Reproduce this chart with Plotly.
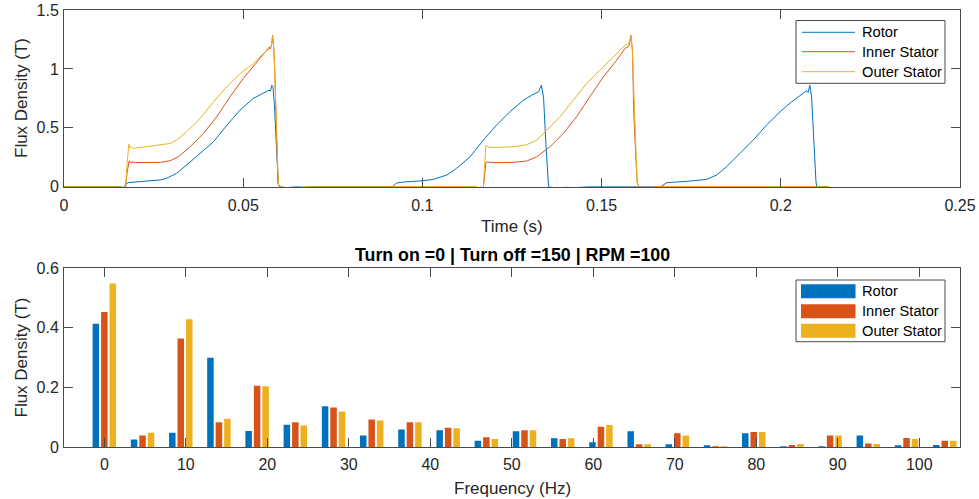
import plotly.graph_objects as go

# ---------------- time-domain flux density (T) ----------------
t_rotor = [0, 0.0160, 0.0166, 0.0172, 0.0180, 0.0200, 0.0240, 0.0270, 0.0286, 0.0300,
           0.0314, 0.0342, 0.0380, 0.0417, 0.0454, 0.0491, 0.0528, 0.0556, 0.0572, 0.0576,
           0.0580, 0.0583, 0.0587, 0.0591, 0.0595, 0.0598, 0.0603, 0.0620, 0.0650, 0.0680,
           0.0700, 0.0917, 0.0925, 0.0932, 0.0960, 0.1000, 0.1030, 0.1068, 0.1095, 0.1133,
           0.1170, 0.1207, 0.1244, 0.1282, 0.1305, 0.1324, 0.1332, 0.1338, 0.1345, 0.1349,
           0.1352, 0.1370, 0.1400, 0.1430, 0.1460, 0.1665, 0.1675, 0.1682, 0.1747, 0.1793,
           0.1821, 0.1849, 0.1886, 0.1923, 0.1960, 0.1998, 0.2030, 0.2054, 0.2072, 0.2076,
           0.2081, 0.2086, 0.2092, 0.2098, 0.2100, 0.2133]
b_rotor = [0, 0, -0.010, 0.020, 0.035, 0.040, 0.048, 0.058, 0.071, 0.090,
           0.113, 0.184, 0.282, 0.381, 0.520, 0.650, 0.749, 0.797, 0.820, 0.810,
           0.862, 0.850, 0.700, 0.450, 0.150, 0.020, 0, -0.008, 0, -0.005,
           0, 0, 0.025, 0.034, 0.043, 0.050, 0.062, 0.099, 0.155, 0.254,
           0.395, 0.523, 0.636, 0.734, 0.777, 0.805, 0.862, 0.760, 0.340, 0.110,
           0, -0.010, -0.005, -0.008, 0, 0, 0.020, 0.034, 0.048, 0.062,
           0.099, 0.170, 0.282, 0.395, 0.523, 0.636, 0.720, 0.777, 0.814, 0.800,
           0.862, 0.760, 0.340, 0.050, 0, 0]

t_inner = [0, 0.0160, 0.0166, 0.0172, 0.0176, 0.0180, 0.0182, 0.0186, 0.0190, 0.0200,
           0.0240, 0.0270, 0.0296, 0.0319, 0.0352, 0.0389, 0.0426, 0.0463, 0.0500, 0.0538,
           0.0561, 0.0573, 0.0576, 0.0580, 0.0582, 0.0585, 0.0588, 0.0592, 0.0596, 0.0597,
           0.0600, 0.0620, 0.0640, 0.0660, 0.0680, 0.1150, 0.1155, 0.1165, 0.1170, 0.1174,
           0.1177, 0.1180, 0.1200, 0.1250, 0.1291, 0.1319, 0.1356, 0.1393, 0.1430, 0.1467,
           0.1505, 0.1542, 0.1565, 0.1575, 0.1578, 0.1582, 0.1586, 0.1590, 0.1595, 0.1599,
           0.1604, 0.1620, 0.1650, 0.2133]
b_inner = [0, 0, -0.010, 0, 0.120, 0.210, 0.220, 0.200, 0.210, 0.205,
           0.203, 0.207, 0.220, 0.254, 0.339, 0.452, 0.593, 0.763, 0.918, 1.059,
           1.144, 1.186, 1.170, 1.220, 1.285, 1.180, 1.000, 0.593, 0.300, 0.040,
           0, -0.010, -0.005, -0.010, 0, 0, -0.010, -0.005, -0.010, 0.100,
           0.206, 0.210, 0.204, 0.206, 0.218, 0.254, 0.339, 0.452, 0.593, 0.763,
           0.932, 1.073, 1.172, 1.190, 1.210, 1.285, 1.160, 0.600, 0.200, 0.040,
           0, -0.008, 0, 0]

t_outer = [0, 0.0160, 0.0166, 0.0172, 0.0176, 0.0179, 0.0181, 0.0184, 0.0188, 0.0193,
           0.0230, 0.0268, 0.0296, 0.0314, 0.0342, 0.0380, 0.0417, 0.0454, 0.0491, 0.0528,
           0.0556, 0.0573, 0.0576, 0.0579, 0.0582, 0.0586, 0.0590, 0.0594, 0.0598, 0.0601,
           0.0620, 0.0640, 0.0660, 0.0680, 0.1150, 0.1158, 0.1165, 0.1170, 0.1174, 0.1177,
           0.1180, 0.1185, 0.1200, 0.1250, 0.1291, 0.1319, 0.1347, 0.1384, 0.1421, 0.1458,
           0.1495, 0.1523, 0.1551, 0.1565, 0.1575, 0.1582, 0.1586, 0.1590, 0.1595, 0.1599,
           0.1604, 0.1620, 0.1650, 0.2133]
b_outer = [0, 0, -0.010, 0, 0.200, 0.353, 0.360, 0.330, 0.340, 0.325,
           0.339, 0.350, 0.367, 0.395, 0.466, 0.579, 0.720, 0.847, 0.960, 1.045,
           1.130, 1.172, 1.180, 1.200, 1.280, 1.150, 0.800, 0.300, 0.020, 0,
           -0.010, -0.008, -0.010, 0, 0, -0.012, 0, -0.010, 0.200, 0.347,
           0.350, 0.335, 0.333, 0.338, 0.356, 0.395, 0.480, 0.593, 0.734, 0.876,
           0.989, 1.073, 1.158, 1.200, 1.210, 1.280, 1.150, 0.800, 0.300, 0.040,
           0, -0.010, 0, 0]

# ---------------- spectrum (T) ----------------
freq_hz = [0, 4.69, 9.38, 14.06, 18.75, 23.44, 28.13, 32.81, 37.50, 42.19, 46.88, 51.56,
           56.25, 60.94, 65.63, 70.31, 75.00, 79.69, 84.38, 89.06, 93.75, 98.44, 103.13]
amp_rotor = [0.414, 0.025, 0.048, 0.300, 0.054, 0.075, 0.137, 0.039, 0.059, 0.056, 0.021, 0.053,
             0.029, 0.016, 0.053, 0.009, 0.003, 0.046, 0.001, 0.001, 0.039, 0.004, 0.007]
amp_inner = [0.453, 0.039, 0.364, 0.083, 0.206, 0.083, 0.133, 0.092, 0.083, 0.065, 0.033, 0.056,
             0.027, 0.068, 0.009, 0.046, 0.001, 0.050, 0.007, 0.039, 0.012, 0.030, 0.021]
amp_outer = [0.549, 0.048, 0.429, 0.095, 0.204, 0.072, 0.119, 0.089, 0.083, 0.063, 0.027, 0.056,
             0.029, 0.074, 0.009, 0.039, 0.001, 0.050, 0.010, 0.039, 0.010, 0.027, 0.021]

series_names = ["Rotor", "Inner Stator", "Outer Stator"]
colors = ["#0072BD", "#D95319", "#EDB120"]

top_xticks = [0, 0.05, 0.1, 0.15, 0.2, 0.25]
top_xlabels = ["0", "0.05", "0.1", "0.15", "0.2", "0.25"]
top_yticks = [0, 0.5, 1, 1.5]
top_ylabels = ["0", "0.5", "1", "1.5"]
bot_xticks = [0, 10, 20, 30, 40, 50, 60, 70, 80, 90, 100]
bot_yticks = [0, 0.2, 0.4, 0.6]
bot_ylabels = ["0", "0.2", "0.4", "0.6"]

# ---------------- geometry helpers (pixel -> paper) ----------------
W, H = 979, 499
ML, MR, MT, MB = 64, 19, 10, 52
PW, PH = W - ML - MR, H - MT - MB


def px(x):
    return (x - ML) / PW


def py(y):
    return (H - MB - y) / PH


FONT = "Liberation Sans, Arial, Helvetica, sans-serif"
TXT = "#262626"
AX = "#4a4a4a"

fig = go.Figure()

for t, b, name, c in zip([t_rotor, t_inner, t_outer], [b_rotor, b_inner, b_outer],
                         series_names, colors):
    fig.add_trace(go.Scatter(x=t, y=b, mode="lines", name=name,
                             line=dict(color=c, width=1), showlegend=False,
                             xaxis="x", yaxis="y"))

bar_width = 0.8
bar_offsets = [-1.44, -0.40, 0.64]
for amp, name, c, off in zip([amp_rotor, amp_inner, amp_outer], series_names, colors, bar_offsets):
    fig.add_trace(go.Bar(x=freq_hz, y=amp, name=name, marker=dict(color=c, line=dict(width=0)),
                         width=bar_width, offset=off, showlegend=False,
                         xaxis="x2", yaxis="y2"))

axis_common = dict(showline=True, linecolor=AX, linewidth=1, mirror="ticks",
                   ticks="inside", ticklen=9, tickcolor=AX, showgrid=False, zeroline=False,
                   automargin=False,
                   tickfont=dict(family=FONT, size=16, color=TXT))

fig.update_layout(
    template="none",
    width=W, height=H,
    margin=dict(l=ML, r=MR, t=MT, b=MB),
    paper_bgcolor="white", plot_bgcolor="white",
    barmode="overlay",
    xaxis=dict(domain=[0, 1], anchor="y", range=[0, 0.25], tickvals=top_xticks,
               ticktext=top_xlabels, ticklabelstandoff=4, **axis_common),
    yaxis=dict(domain=[py(186.7), 1], anchor="x", range=[0, 1.5], tickvals=top_yticks,
               ticktext=top_ylabels, ticklabelstandoff=1, **axis_common),
    xaxis2=dict(domain=[0, 1], anchor="y2", range=[-4.95, 105.0], tickvals=bot_xticks,
                ticklabelstandoff=3, **axis_common),
    yaxis2=dict(domain=[0, py(268.3)], anchor="x2", range=[0, 0.6], tickvals=bot_yticks,
                ticktext=bot_ylabels, ticklabelstandoff=1, **axis_common),
)

annotations = [
    dict(text="Time (s)", x=px(512), y=py(227), font=dict(size=17, color=TXT)),
    dict(text="Frequency (Hz)", x=px(512), y=py(488), font=dict(size=17, color=TXT)),
    dict(text="Flux Density (T)", x=px(21), y=py(98), textangle=-90, font=dict(size=17, color=TXT)),
    dict(text="Flux Density (T)", x=px(21), y=py(357.5), textangle=-90, font=dict(size=17, color=TXT)),
    dict(text="<b>Turn on =0 | Turn off =150 | RPM =100</b>", x=px(512), y=py(255),
         font=dict(size=17.8, color="#000000")),
]

shapes = []
# legend for the time-domain traces
shapes.append(dict(type="rect", xref="paper", yref="paper", x0=px(796), x1=px(945),
                   y0=py(83.3), y1=py(20.5), line=dict(color=AX, width=1), fillcolor="white",
                   layer="above"))
for name, c, yy in zip(series_names, colors, [32.3, 51.7, 71.7]):
    shapes.append(dict(type="line", xref="paper", yref="paper", x0=px(802), x1=px(855),
                       y0=py(yy), y1=py(yy), line=dict(color=c, width=1), layer="above"))
    annotations.append(dict(text=name, x=px(860), y=py(yy), xanchor="left",
                            font=dict(size=14.7, color="#000000")))
# legend for the spectrum bars
shapes.append(dict(type="rect", xref="paper", yref="paper", x0=px(796), x1=px(945),
                   y0=py(341.7), y1=py(280), line=dict(color=AX, width=1), fillcolor="white",
                   layer="above"))
for name, c, yy in zip(series_names, colors, [291.3, 311.3, 330.7]):
    shapes.append(dict(type="rect", xref="paper", yref="paper", x0=px(801), x1=px(855.5),
                       y0=py(yy + 7), y1=py(yy - 7), line=dict(width=0), fillcolor=c,
                       layer="above"))
    annotations.append(dict(text=name, x=px(860), y=py(yy), xanchor="left",
                            font=dict(size=14.7, color="#000000")))

for a in annotations:
    a.setdefault("xref", "paper")
    a.setdefault("yref", "paper")
    a.setdefault("showarrow", False)
    a.setdefault("xanchor", "center")
    a.setdefault("yanchor", "middle")
    a["font"].setdefault("family", FONT)

fig.update_layout(annotations=annotations, shapes=shapes)

fig.write_html("out.html")
